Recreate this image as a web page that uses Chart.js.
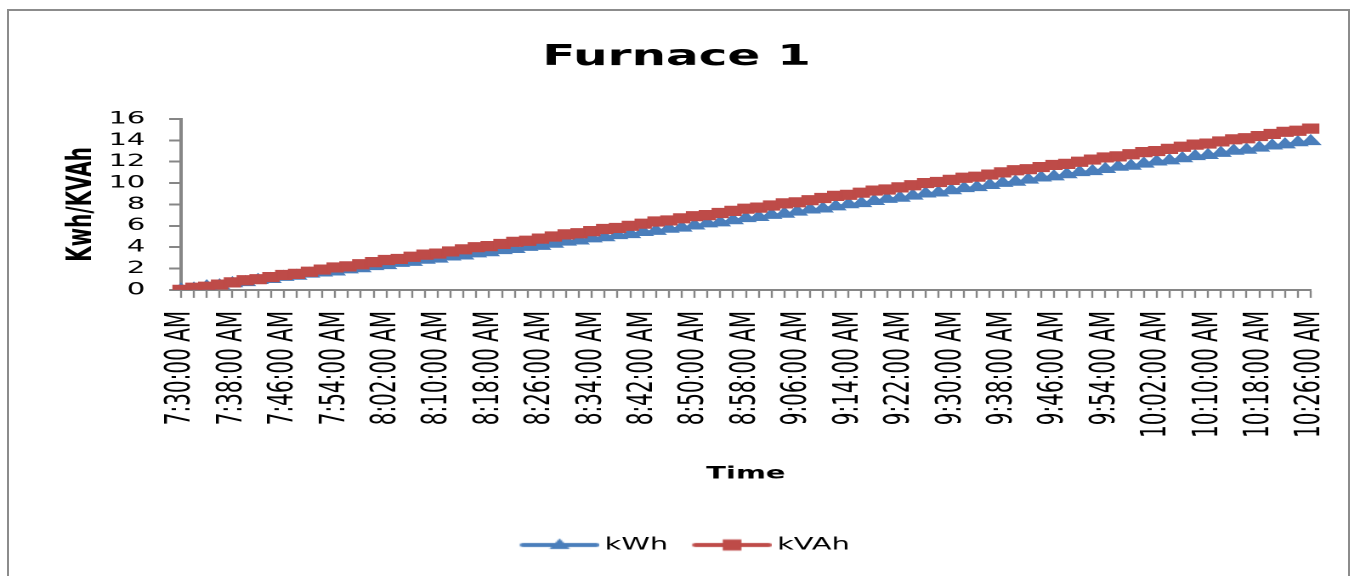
<!DOCTYPE html>
<html><head><meta charset="utf-8">
<script src="https://cdn.jsdelivr.net/npm/chart.js@4/dist/chart.umd.min.js"></script>
<style>
html,body{margin:0;padding:0;background:#fff;width:1357px;height:576px;overflow:hidden;}
#frame{position:absolute;left:7px;top:9px;width:1343px;height:600px;border:2px solid #8c8c8c;border-bottom:none;box-sizing:border-box;}
#wrap{position:absolute;left:0;top:0;width:798px;height:576px;transform:scaleX(1.7);transform-origin:0 0;}
</style></head><body>
<div id="frame"></div>
<div id="wrap"><canvas id="c" width="798" height="576" style="width:798px;height:576px"></canvas></div>
<script>
const times = [
 "7:30:00 AM","7:32:00 AM","7:34:00 AM","7:36:00 AM","7:38:00 AM","7:40:00 AM","7:42:00 AM","7:44:00 AM","7:46:00 AM","7:48:00 AM",
 "7:50:00 AM","7:52:00 AM","7:54:00 AM","7:56:00 AM","7:58:00 AM","8:00:00 AM","8:02:00 AM","8:04:00 AM","8:06:00 AM","8:08:00 AM",
 "8:10:00 AM","8:12:00 AM","8:14:00 AM","8:16:00 AM","8:18:00 AM","8:20:00 AM","8:22:00 AM","8:24:00 AM","8:26:00 AM","8:28:00 AM",
 "8:30:00 AM","8:32:00 AM","8:34:00 AM","8:36:00 AM","8:38:00 AM","8:40:00 AM","8:42:00 AM","8:44:00 AM","8:46:00 AM","8:48:00 AM",
 "8:50:00 AM","8:52:00 AM","8:54:00 AM","8:56:00 AM","8:58:00 AM","9:00:00 AM","9:02:00 AM","9:04:00 AM","9:06:00 AM","9:08:00 AM",
 "9:10:00 AM","9:12:00 AM","9:14:00 AM","9:16:00 AM","9:18:00 AM","9:20:00 AM","9:22:00 AM","9:24:00 AM","9:26:00 AM","9:28:00 AM",
 "9:30:00 AM","9:32:00 AM","9:34:00 AM","9:36:00 AM","9:38:00 AM","9:40:00 AM","9:42:00 AM","9:44:00 AM","9:46:00 AM","9:48:00 AM",
 "9:50:00 AM","9:52:00 AM","9:54:00 AM","9:56:00 AM","9:58:00 AM","10:00:00 AM","10:02:00 AM","10:04:00 AM","10:06:00 AM","10:08:00 AM",
 "10:10:00 AM","10:12:00 AM","10:14:00 AM","10:16:00 AM","10:18:00 AM","10:20:00 AM","10:22:00 AM","10:24:00 AM","10:26:00 AM"
];
const kWh = [
 0.0,0.1,0.3,0.4,0.6,0.7,0.9,1.0,1.2,1.3,
 1.5,1.6,1.7,1.9,2.0,2.2,2.3,2.5,2.6,2.8,
 2.9,3.1,3.2,3.4,3.5,3.7,3.8,4.0,4.1,4.3,
 4.5,4.6,4.8,4.9,5.1,5.2,5.4,5.5,5.7,5.8,
 6.0,6.2,6.3,6.5,6.7,6.8,7.0,7.1,7.3,7.5,
 7.6,7.8,8.0,8.1,8.3,8.5,8.6,8.8,9.0,9.1,
 9.3,9.5,9.6,9.8,10.0,10.1,10.3,10.5,10.6,10.8,
 11.0,11.1,11.3,11.5,11.6,11.8,12.0,12.1,12.3,12.5,
 12.6,12.8,13.0,13.1,13.3,13.5,13.6,13.8,13.9
];
const kVAh = [
 0.0,0.2,0.3,0.5,0.7,0.9,1.0,1.2,1.4,1.5,
 1.7,1.9,2.1,2.2,2.4,2.6,2.8,2.9,3.1,3.3,
 3.4,3.6,3.8,4.0,4.1,4.3,4.5,4.6,4.8,5.0,
 5.2,5.3,5.5,5.7,5.8,6.0,6.2,6.4,6.5,6.7,
 6.9,7.0,7.2,7.4,7.6,7.7,7.9,8.1,8.2,8.4,
 8.6,8.8,8.9,9.1,9.3,9.4,9.6,9.8,10.0,10.1,
 10.3,10.5,10.6,10.8,11.0,11.2,11.3,11.5,11.7,11.8,
 12.0,12.2,12.4,12.5,12.7,12.9,13.0,13.2,13.4,13.6,
 13.7,13.9,14.1,14.2,14.4,14.6,14.8,14.9,15.1
];
const yTicks = [0,2,4,6,8,10,12,14,16];
const seriesNames = ["kWh","kVAh"];
const blue = "#4A7EBB", red = "#BE4B48";

// legend sample: line with marker, drawn at the right end of a wider transparent image
function legendImg(color, shape){
  const c = document.createElement('canvas');
  c.width = 62; c.height = 14;
  const g = c.getContext('2d');
  const ox = 15;
  g.strokeStyle = color; g.lineWidth = 4; g.lineCap = 'round';
  g.beginPath(); g.moveTo(ox+2,7); g.lineTo(ox+45,7); g.stroke();
  g.fillStyle = color;
  if (shape === 'rect'){ g.fillRect(ox+23.5-5.5, 7-5.5, 11, 11); }
  else { g.beginPath(); g.moveTo(ox+23.5, 0.5); g.lineTo(ox+29.5, 11); g.lineTo(ox+17.5, 11); g.closePath(); g.fill(); }
  return c;
}
const legendImgs = [legendImg(blue,'tri'), legendImg(red,'rect')];

new Chart(document.getElementById('c'), {
  type: 'line',
  data: {
    labels: times,
    datasets: [
      { label: seriesNames[0], data: kWh, borderColor: blue, backgroundColor: blue, borderWidth: 3,
        pointStyle: 'triangle', pointRadius: 6.5, pointBorderWidth: 1, pointBorderColor: blue, pointBackgroundColor: blue, order: 1, tension: 0 },
      { label: seriesNames[1], data: kVAh, borderColor: red, backgroundColor: red, borderWidth: 3,
        pointStyle: 'rect', pointRadius: 6.5, pointBorderWidth: 1, pointBorderColor: red, pointBackgroundColor: red, order: 0, tension: 0 }
    ]
  },
  options: {
    responsive: false,
    devicePixelRatio: 2,
    animation: false,
    layout: { padding: { left: 25, right: 27, top: 0, bottom: 12.5 } },
    plugins: {
      title: { display: true, text: 'Furnace 1', color: '#000',
        font: { family: 'DejaVu Sans', size: 28.5, weight: 'bold' }, padding: { top: 40.4, bottom: 44.4 } },
      legend: { position: 'bottom',
        labels: { usePointStyle: true, pointStyleWidth: 51, padding: 4.5, color: '#000',
          font: { family: 'DejaVu Sans', size: 17 },
          generateLabels: (chart) => seriesNames.map((n,i) => ({
            text: n, pointStyle: legendImgs[i], datasetIndex: i, hidden: false,
            fillStyle: 'rgba(0,0,0,0)', strokeStyle: 'rgba(0,0,0,0)', lineWidth: 0, fontColor: '#000'
          }))
        } },
      tooltip: { enabled: false }
    },
    scales: {
      x: {
        type: 'category', offset: false,
        afterFit: (s) => { s.paddingLeft = 0; s.paddingRight = 0; },
        grid: { drawOnChartArea: false, drawTicks: true, tickLength: 8, color: '#868686', tickWidth: 1.2 },
        border: { display: true, color: '#868686', width: 2 },
        ticks: { autoSkip: false, minRotation: 90, maxRotation: 90, padding: 13, color: '#000',
          font: { family: 'DejaVu Sans', size: 20 },
          callback: function(v, i){ return i % 4 === 0 ? times[i] : ''; } },
        title: { display: true, text: 'Time', color: '#000',
          font: { family: 'DejaVu Sans', size: 17, weight: 'bold' }, padding: { top: 12.8, bottom: 47.8 } }
      },
      y: {
        min: 0, max: 16,
        afterBuildTicks: (axis) => { axis.ticks = yTicks.map(v => ({ value: v })); },
        afterFit: (s) => { s.width = 81.5; },
        grid: { drawOnChartArea: false, drawTicks: true, tickLength: 7, color: '#868686', tickWidth: 2 },
        border: { display: true, color: '#868686', width: 2 },
        ticks: { autoSkip: false, padding: 14, color: '#000', font: { family: 'DejaVu Sans', size: 17 } },
        title: { display: true, text: 'Kwh/KVAh', color: '#000',
          font: { family: 'DejaVu Sans', size: 20, weight: 'bold' }, padding: { top: 11.2, bottom: 3.7 } }
      }
    }
  }
});
</script>
</body></html>
